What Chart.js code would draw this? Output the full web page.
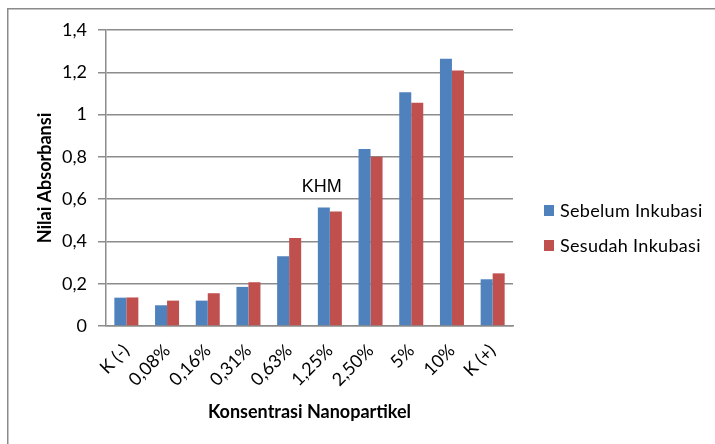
<!DOCTYPE html>
<html>
<head>
<meta charset="utf-8">
<script src="https://cdn.jsdelivr.net/npm/chart.js@4/dist/chart.umd.min.js"></script>
<style>
  html, body { margin: 0; padding: 0; background: #ffffff; }
  #wrap { width: 715px; height: 444px; position: relative; }
</style>
</head>
<body>
<div id="wrap"><canvas id="chart" width="715" height="444"></canvas></div>
<script>
// Absorbance per nanoparticle concentration, before and after incubation
const categories = ['K (-)', '0,08%', '0,16%', '0,31%', '0,63%', '1,25%', '2,50%', '5%', '10%', 'K (+)'];
const sebelumInkubasi = [0.134, 0.098, 0.120, 0.185, 0.330, 0.561, 0.837, 1.105, 1.264, 0.221];
const sesudahInkubasi = [0.135, 0.120, 0.155, 0.207, 0.416, 0.541, 0.801, 1.056, 1.208, 0.249];
const seriesNames = ['Sebelum Inkubasi', 'Sesudah Inkubasi'];
const yTicks = [0, 0.2, 0.4, 0.6, 0.8, 1.0, 1.2, 1.4];

// annotation marking the minimum inhibitory concentration
const annotationText = 'KHM';
const annotationCategory = '1,25%';
const annotationValue = 0.634;

const BLUE = '#4F81BD';
const RED = '#C0504D';
const GRID = '#8C8C8C';
const FONT = 'Lato, "Liberation Sans", sans-serif';

const fmt = v => {
  const r = Math.round(v * 10) / 10;
  return String(r).replace('.', ',');
};

const frameAndLegend = {
  id: 'frameAndLegend',
  beforeDraw(chart) {
    const ctx = chart.ctx;
    ctx.save();
    ctx.fillStyle = '#ffffff';
    ctx.fillRect(0, 0, chart.width, chart.height);
    ctx.strokeStyle = '#8a8a8a';
    ctx.lineWidth = 1.5;
    ctx.strokeRect(7.75, 8.75, chart.width + 20, chart.height + 20);
    ctx.restore();
  },
  afterDraw(chart) {
    const ctx = chart.ctx;
    const area = chart.chartArea;
    const xs = chart.scales.x;
    const ys = chart.scales.y;
    ctx.save();
    // legend
    ctx.font = '18px ' + FONT;
    ctx.textBaseline = 'middle';
    ctx.textAlign = 'left';
    const rows = [211, 246];
    chart.data.datasets.forEach((ds, i) => {
      const y = rows[i];
      ctx.fillStyle = ds.backgroundColor;
      ctx.fillRect(area.right + 31, y - 6, 10, 11);
      ctx.fillStyle = '#000000';
      if ('letterSpacing' in ctx) ctx.letterSpacing = '0.3px';
      ctx.fillText(ds.label, area.right + 47, y);
      if ('letterSpacing' in ctx) ctx.letterSpacing = '0px';
    });
    // annotation
    ctx.font = '18px "Liberation Sans", Arial, sans-serif';
    ctx.textAlign = 'center';
    ctx.textBaseline = 'alphabetic';
    ctx.fillStyle = '#000000';
    const ax = xs.getPixelForValue(categories.indexOf(annotationCategory)) - 8;
    ctx.fillText(annotationText, ax, ys.getPixelForValue(annotationValue));
    ctx.restore();
  }
};

new Chart(document.getElementById('chart'), {
  type: 'bar',
  data: {
    labels: categories,
    datasets: [
      { label: seriesNames[0], data: sebelumInkubasi, backgroundColor: BLUE, borderWidth: 0 },
      { label: seriesNames[1], data: sesudahInkubasi, backgroundColor: RED, borderWidth: 0 }
    ]
  },
  options: {
    responsive: false,
    animation: false,
    devicePixelRatio: 1,
    categoryPercentage: 0.59,
    barPercentage: 1.0,
    layout: { padding: { left: 10, top: 30, right: 202, bottom: 0 } },
    plugins: {
      legend: { display: false },
      tooltip: { enabled: false }
    },
    scales: {
      x: {
        grid: { display: false, drawTicks: false },
        border: { display: true, color: GRID, width: 1.5 },
        ticks: {
          color: '#000000',
          font: { family: FONT, size: 18 },
          minRotation: 45,
          maxRotation: 45,
          padding: 14,
          autoSkip: false
        },
        title: {
          display: true,
          text: 'Konsentrasi Nanopartikel',
          color: '#000000',
          font: { family: FONT, size: 18, weight: 'bold' },
          padding: { top: 4, bottom: 21 }
        },
        afterFit(scale) { scale.height = 118; }
      },
      y: {
        min: 0,
        max: 1.4,
        afterBuildTicks(scale) { scale.ticks = yTicks.map(v => ({ value: v })); },
        grid: { color: GRID, lineWidth: 1.5, drawTicks: true, tickLength: 8, tickColor: GRID },
        border: { display: true, color: GRID, width: 1.5 },
        ticks: {
          color: '#000000',
          font: { family: FONT, size: 18 },
          padding: 11,
          callback: v => fmt(v)
        },
        title: {
          display: true,
          text: 'Nilai Absorbansi',
          color: '#000000',
          font: { family: FONT, size: 18, weight: 'bold' },
          padding: { top: 24, bottom: 0 }
        },
        afterFit(scale) { scale.width = 96; }
      }
    }
  },
  plugins: [frameAndLegend]
});
</script>
</body>
</html>
